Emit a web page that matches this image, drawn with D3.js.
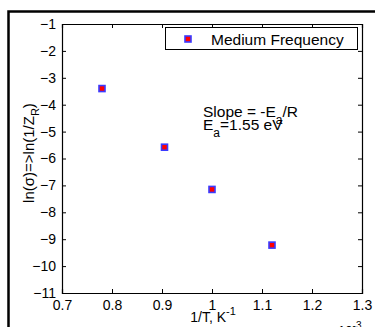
<!DOCTYPE html>
<html>
<head>
<meta charset="utf-8">
<script src="https://cdn.jsdelivr.net/npm/d3@7"></script>
<style>
body { margin:0; background:#fff; }
svg { display:block; font-family:"Liberation Sans", Arial, sans-serif; }
</style>
</head>
<body>
<div class="container"></div>
<script>
// data (x in units of 1e-3 K^-1)
var invT = [0.78, 0.905, 1.0, 1.12];
var lnSigma = [-3.4, -5.58, -7.15, -9.22];
var xTicks = [0.7, 0.8, 0.9, 1.0, 1.1, 1.2, 1.3];
var yTicks = [-11, -10, -9, -8, -7, -6, -5, -4, -3, -2, -1];
var seriesName = "Medium Frequency";

var W = 375, H = 327;
// plot box (note: "top" is taken by window.top, so use px names)
var pxL = 62, pxR = 362, pxT = 24, pxB = 293;

var svg = d3.select(".container").append("svg")
	.attr("width", W).attr("height", H);

// figure frame
svg.append("rect")
	.attr("x", 8.5).attr("y", 11.5)
	.attr("width", 500).attr("height", 500)
	.style("fill", "none").style("stroke", "#000").style("stroke-width", 2.5);

var x = d3.scaleLinear().domain([0.7, 1.3]).range([pxL, pxR]);
var y = d3.scaleLinear().domain([-11, -1]).range([pxB, pxT]);

function fmtX(d) { return d === 1 ? "1" : d3.format(".1f")(d); }

// axes, ticks inward like matlab
var gB = svg.append("g").attr("transform", "translate(0," + pxB + ")")
	.call(d3.axisBottom(x).tickValues(xTicks).tickSize(-4).tickPadding(7).tickFormat(fmtX));
var gT = svg.append("g").attr("transform", "translate(0," + pxT + ")")
	.call(d3.axisTop(x).tickValues(xTicks).tickSize(-4).tickFormat(""));
var gL = svg.append("g").attr("transform", "translate(" + pxL + ",0)")
	.call(d3.axisLeft(y).tickValues(yTicks).tickSize(-4).tickPadding(6).tickFormat(d3.format("d")));
var gR = svg.append("g").attr("transform", "translate(" + pxR + ",0)")
	.call(d3.axisRight(y).tickValues(yTicks).tickSize(-4).tickFormat(""));

[gB, gT, gL, gR].forEach(function(g) {
	g.select(".domain").style("stroke", "#000").style("stroke-width", 1.2);
	g.selectAll(".tick line").style("stroke", "#000");
	g.selectAll("text").style("font-size", "14px").style("fill", "#000")
		.style("font-family", "Liberation Sans, Arial, sans-serif");
});

// points
svg.selectAll("rect.pt").data(invT).enter().append("rect")
	.attr("class", "pt")
	.attr("x", function(d) { return x(d) - 3; })
	.attr("y", function(d, i) { return y(lnSigma[i]) - 3; })
	.attr("width", 6).attr("height", 6)
	.style("fill", "red").style("stroke", "#3a3aff").style("stroke-width", 1.6);

// legend
svg.append("rect")
	.attr("x", 165.5).attr("y", 27.5).attr("width", 192).attr("height", 22)
	.style("fill", "#fff").style("stroke", "#000").style("stroke-width", 1);
svg.append("rect")
	.attr("x", 185).attr("y", 36).attr("width", 6).attr("height", 6)
	.style("fill", "red").style("stroke", "#3a3aff").style("stroke-width", 1.6);
svg.append("text").attr("x", 211).attr("y", 44.5)
	.style("font-size", "15.5px").text(seriesName);

// annotation
var t1 = svg.append("text").attr("x", 203).attr("y", 117).style("font-size", "15.5px");
t1.append("tspan").text("Slope = -E");
t1.append("tspan").attr("dy", 7).style("font-size", "12px").text("a");
t1.append("tspan").attr("dy", -7).text("/R");
var t2 = svg.append("text").attr("x", 203).attr("y", 130).style("font-size", "15.5px");
t2.append("tspan").text("E");
t2.append("tspan").attr("dy", 7).style("font-size", "12px").text("a");
t2.append("tspan").attr("dy", -7).text("=1.55 eV");

// axis labels
var xl = svg.append("text").attr("x", 213).attr("y", 321.5)
	.attr("text-anchor", "middle").style("font-size", "14px");
xl.append("tspan").text("1/T, K");
xl.append("tspan").attr("dy", -7).style("font-size", "11px").text("-1");

var xm = svg.append("text").attr("x", 328).attr("y", 335).style("font-size", "13px");
xm.append("tspan").text("x 10");
xm.append("tspan").attr("dy", -6).style("font-size", "10px").text("-3");

var yl = svg.append("text")
	.attr("transform", "translate(34,153) rotate(-90)")
	.attr("text-anchor", "middle").style("font-size", "15px");
yl.append("tspan").text("ln(σ)=>ln(1/Z");
yl.append("tspan").attr("dy", 5).style("font-size", "11px").text("R");
yl.append("tspan").attr("dy", -5).text(")");
</script>
</body>
</html>
